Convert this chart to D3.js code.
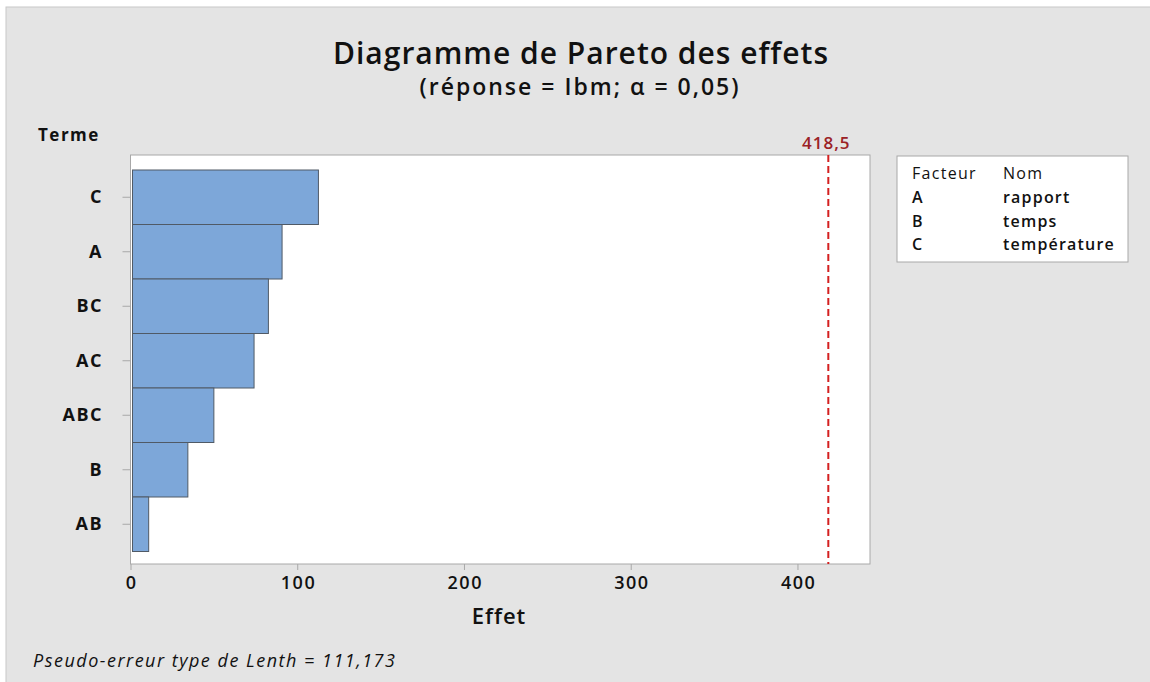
<!DOCTYPE html>
<html>
  <head>
    <meta charset="utf-8">
    <title>Diagramme de Pareto des effets</title>
    <script src="https://d3js.org/d3.v7.min.js"></script>
    <style>
      body { margin: 0; background: #fff; }
      svg text { font-family: "Open Sans", "Noto Sans", sans-serif; fill: #111; }
    </style>
  </head>
  <body>
    <svg id="chart" width="1150" height="682"></svg>
    <script>
      // data
      var terms = ["C", "A", "BC", "AC", "ABC", "B", "AB"];
      var effects = [112.7, 90.9, 82.7, 74.1, 50.0, 34.4, 10.9];
      var critical = 418.5;
      var xTicks = [0, 100, 200, 300, 400];
      var factorCodes = ["A", "B", "C"];
      var factorNames = ["rapport", "temps", "température"];

      var svg = d3.select("#chart");
      // page background
      svg.append("rect")
        .attr("x", 6).attr("y", 7)
        .attr("width", 1150).attr("height", 682)
        .attr("fill", "#e4e4e4")
        .attr("stroke", "#c8c8c8");

      var plot = { left: 130.5, top: 155, right: 870, bottom: 564 };
      var x = d3.scaleLinear()
        .domain([0, 443.5])
        .range([plot.left, plot.right]);
      var y = d3.scaleBand()
        .domain(terms)
        .range([170, 551.5])
        .padding(0);

      svg.append("rect")
        .attr("x", plot.left).attr("y", plot.top)
        .attr("width", plot.right - plot.left)
        .attr("height", plot.bottom - plot.top)
        .attr("fill", "#fff")
        .attr("stroke", "#a8a8a8");

      // bars
      svg.selectAll(".bar")
        .data(terms)
        .enter().append("rect")
          .attr("class", "bar")
          .attr("x", x(0) + 2)
          .attr("y", function(d) { return y(d); })
          .attr("width", function(d, i) { return x(effects[i]) - x(0) - 2; })
          .attr("height", y.bandwidth())
          .attr("fill", "#7da7d9")
          .attr("stroke", "#505a66")
          .attr("stroke-width", 1);

      // y axis (letter-spacing adds trailing space, so padding is a bit smaller)
      var yAxis = svg.append("g")
        .attr("transform", "translate(" + plot.left + ",0)")
        .call(d3.axisLeft(y).tickSize(8).tickPadding(19.5));
      yAxis.select(".domain").remove();
      yAxis.selectAll("line").attr("stroke", "#a8a8a8");
      yAxis.selectAll("text")
        .attr("font-size", 18).attr("font-weight", 700)
        .attr("letter-spacing", 1.5)
        .attr("fill", "#111")
        .style("font-family", "'Open Sans', sans-serif");

      // x axis
      var xAxis = svg.append("g")
        .attr("transform", "translate(0," + plot.bottom + ")")
        .call(d3.axisBottom(x).tickValues(xTicks).tickSize(6).tickPadding(6).tickFormat(d3.format("d")));
      xAxis.select(".domain").remove();
      xAxis.selectAll("line").attr("stroke", "#a8a8a8");
      xAxis.selectAll("text")
        .attr("font-size", 18).attr("font-weight", 600)
        .attr("letter-spacing", 1.5)
        .attr("dx", 0.75)
        .attr("fill", "#111")
        .style("font-family", "'Open Sans', sans-serif");

      // reference line
      svg.append("line")
        .attr("x1", x(critical)).attr("x2", x(critical))
        .attr("y1", plot.top).attr("y2", plot.bottom)
        .attr("stroke", "#d42020")
        .attr("stroke-width", 2)
        .attr("stroke-dasharray", "7,4");
      svg.append("text")
        .attr("x", x(critical) - 2).attr("y", 149)
        .attr("text-anchor", "middle")
        .attr("font-size", 17).attr("font-weight", 600)
        .attr("letter-spacing", 1)
        .style("fill", "#9b2226")
        .text(d3.format(".1f")(critical).replace(".", ","));

      // titles
      svg.append("text")
        .attr("x", 581).attr("y", 64)
        .attr("text-anchor", "middle")
        .attr("font-size", 30).attr("font-weight", 600)
        .attr("letter-spacing", 1)
        .text("Diagramme de Pareto des effets");
      svg.append("text")
        .attr("x", 580).attr("y", 95)
        .attr("text-anchor", "middle")
        .attr("font-size", 23).attr("font-weight", 600)
        .attr("letter-spacing", 2)
        .text("(réponse = Ibm; α = 0,05)");
      svg.append("text")
        .attr("x", 38).attr("y", 141)
        .attr("font-size", 17).attr("font-weight", 700)
        .attr("letter-spacing", 1.5)
        .text("Terme");
      svg.append("text")
        .attr("x", 499).attr("y", 624)
        .attr("text-anchor", "middle")
        .attr("font-size", 22).attr("font-weight", 600)
        .attr("letter-spacing", 1)
        .text("Effet");
      svg.append("text")
        .attr("x", 33).attr("y", 667)
        .attr("font-size", 18).attr("font-style", "italic")
        .attr("letter-spacing", 1.5)
        .text("Pseudo-erreur type de Lenth = 111,173");

      // legend
      var legend = svg.append("g");
      legend.append("rect")
        .attr("x", 897).attr("y", 156)
        .attr("width", 231).attr("height", 106)
        .attr("fill", "#fff")
        .attr("stroke", "#a8a8a8");
      legend.append("text")
        .attr("x", 912).attr("y", 179)
        .attr("font-size", 16).attr("font-weight", 500)
        .attr("letter-spacing", 1.3)
        .text("Facteur");
      legend.append("text")
        .attr("x", 1003).attr("y", 179)
        .attr("font-size", 16).attr("font-weight", 500)
        .attr("letter-spacing", 1.3)
        .text("Nom");
      legend.selectAll(".code")
        .data(factorCodes)
        .enter().append("text")
          .attr("x", 912)
          .attr("y", function(d, i) { return 203 + i * 23.5; })
          .attr("font-size", 16).attr("font-weight", 600)
          .text(function(d) { return d; });
      legend.selectAll(".name")
        .data(factorNames)
        .enter().append("text")
          .attr("x", 1003)
          .attr("y", function(d, i) { return 203 + i * 23.5; })
          .attr("font-size", 16).attr("font-weight", 600)
          .attr("letter-spacing", 1.2)
          .text(function(d) { return d; });
    </script>
  </body>
</html>
